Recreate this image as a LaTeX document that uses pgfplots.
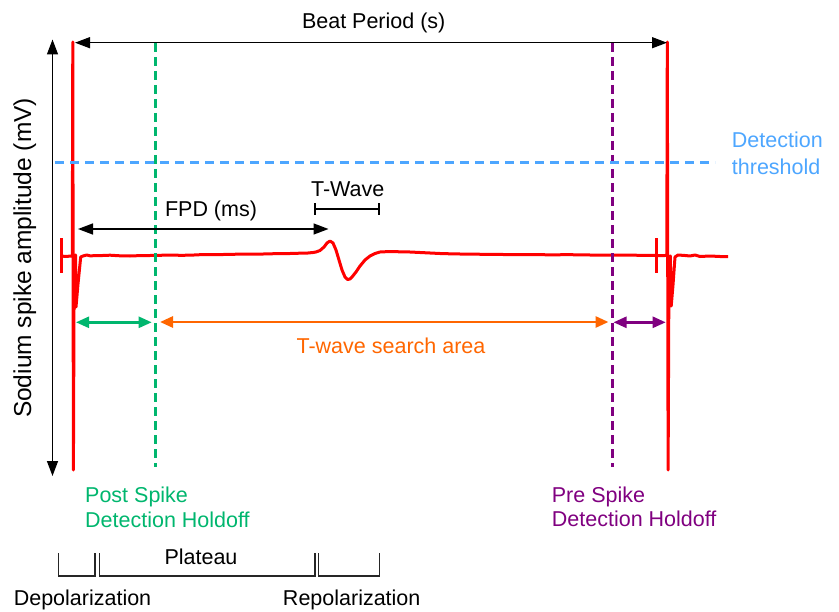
\documentclass[border=0pt]{standalone}
\usepackage{pgfplots}
\pgfplotsset{compat=1.18}
\usepackage{fontspec}
\setmainfont{Liberation Sans}
\usetikzlibrary{arrows.meta}
\definecolor{sigred}{RGB}{255,0,0}
\definecolor{hgreen}{RGB}{0,182,110}
\definecolor{hpurple}{RGB}{128,0,128}
\definecolor{hblue}{RGB}{77,166,255}
\definecolor{horange}{RGB}{255,102,0}
\begin{document}
\begin{tikzpicture}[font=\fontsize{21.5bp}{26bp}\selectfont]
\begin{axis}[
  scale only axis, width=839bp, height=612bp,
  xmin=0, xmax=839, ymin=0, ymax=612, y dir=reverse,
  hide axis, clip=false]
% invisible frame to fix the bounding box
\path (axis cs:0,0) rectangle (axis cs:839,612);
% red signal
\addplot[sigred, line width=3bp, line join=round] coordinates {
(61,256) (66,256.5) (71,256) (72.3,256) (72.8,42) (73.4,470) (74.2,256) (75.5,255)
(76,307) (78,284) (80.7,257) (83,256) (86.7,255) (90,255.8) (100,255.6) (110,255.2)
(120,255.8) (130,256) (140,255.6) (150,255.5) (160,255.3) (170,255) (180,255.3) (190,255.2)
(200,254.7) (210,254.5) (220,254.6) (230,254.3) (240,254.2) (250,254) (260,254.1) (270,253.8)
(280,253.6) (290,253.5) (300,253.2) (308,253) (313,252.5) (316,252) (320,250.5) (324,247)
(327,243) (330,241) (333,243) (336,250) (339,260) (342,270) (345,277) (347.5,279.5)
(350,279) (352,277) (356,272) (360,266) (365,260) (370,256) (375,253.5) (380,252)
(390,251.5) (400,251.8) (410,252) (420,252.5) (430,253) (440,253.5) (450,253.8) (470,254.2)
(490,254.3) (510,254.6) (530,254.6) (550,254.8) (570,254.7) (590,255) (610,255.1) (620,255)
(640,255.3) (655,255.5) (665,255.5) (666.8,255) (667.3,42) (668.1,470) (669,257) (670.3,256)
(671.2,306) (673,285) (675,257) (678,255) (685,255.5) (690,256) (695,255) (700,256.5)
(710,256) (720,256.5) (728,256.5)
};
\addplot[sigred, line width=3bp] coordinates {(61.5,238) (61.5,273)};
\addplot[sigred, line width=3bp] coordinates {(656,238) (656,273)};
% dashed reference lines
\draw[hgreen, line width=2.5bp, dash pattern=on 9bp off 5bp] (155.7,43) -- (155.7,467);
\draw[hpurple, line width=2.5bp, dash pattern=on 9bp off 5bp] (612.3,43) -- (612.3,467);
\draw[hblue, line width=2.5bp, dash pattern=on 9bp off 6bp] (55,162.3) -- (715,162.3);
% black arrows
\draw[black, line width=1.4bp, {Triangle[length=15bp,width=11bp]}-{Triangle[length=15bp,width=11bp]}] (52.5,39.5) -- (52.5,476);
\draw[black, line width=1.4bp, {Triangle[length=15bp,width=11bp]}-{Triangle[length=15bp,width=11bp]}] (75,42.7) -- (667,42.7);
\draw[black, line width=1.4bp, {Triangle[length=15bp,width=11bp]}-{Triangle[length=15bp,width=11bp]}] (78,229) -- (328.5,229);
% T-wave bracket
\draw[black, line width=1.4bp] (315,209) -- (379,209);
\draw[black, line width=1.4bp] (315,203) -- (315,215);
\draw[black, line width=1.4bp] (379,203) -- (379,215);
% coloured arrows
\draw[hgreen, line width=2.5bp, {Triangle[length=13bp,width=11bp]}-{Triangle[length=13bp,width=11bp]}] (76,322.3) -- (151.7,322.3);
\draw[horange, line width=2.8bp, {Triangle[length=13bp,width=11bp]}-{Triangle[length=13bp,width=11bp]}] (160,322) -- (608.5,322);
\draw[hpurple, line width=2.5bp, {Triangle[length=13bp,width=11bp]}-{Triangle[length=13bp,width=11bp]}] (613.5,322.3) -- (665.7,322.3);
% bottom brackets
\draw[black!85, line width=1.3bp] (58.3,553) -- (58.3,576) -- (95,576) -- (95,553);
\draw[black!85, line width=1.3bp] (99.3,553) -- (99.3,576) -- (315,576) -- (315,553);
\draw[black!85, line width=1.3bp] (318.3,553) -- (318.3,576) -- (379.3,576) -- (379.3,553);
% texts
\node[inner sep=0, anchor=base] at (373.7,28.3) {Beat Period (s)};
\node[inner sep=0, anchor=base] at (211,216) {FPD (ms)};
\node[inner sep=0, anchor=base] at (347.7,196) {T-Wave};
\node[inner sep=0, anchor=base, text=horange] at (391,353.3) {T-wave search area};
\node[inner sep=0, anchor=base west, text=hgreen] at (85,502.7) {Post Spike};
\node[inner sep=0, anchor=base west, text=hgreen] at (85,527.3) {Detection Holdoff};
\node[inner sep=0, anchor=base west, text=hpurple] at (551.7,502.7) {Pre Spike};
\node[inner sep=0, anchor=base west, text=hpurple] at (551.7,526.7) {Detection Holdoff};
\node[inner sep=0, anchor=base west, text=hblue] at (731.7,147.3) {Detection};
\node[inner sep=0, anchor=base west, text=hblue] at (731.7,174) {threshold};
\node[inner sep=0, anchor=base] at (201,564) {Plateau};
\node[inner sep=0, anchor=base] at (82.5,605) {Depolarization};
\node[inner sep=0, anchor=base] at (351.7,605) {Repolarization};
\node[inner sep=0, anchor=base, rotate=90, font=\fontsize{24.5bp}{28bp}\selectfont] at (31,258) {Sodium spike amplitude (mV)};
\end{axis}
\end{tikzpicture}
\end{document}
